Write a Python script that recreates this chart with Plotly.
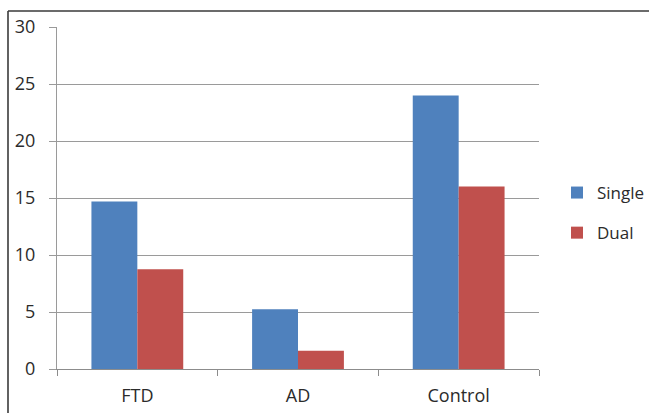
import plotly.graph_objects as go

categories = ["FTD", "AD", "Control"]
single = [14.7, 5.25, 24.0]
dual = [8.75, 1.6, 16.0]
y_ticks = [0, 5, 10, 15, 20, 25, 30]

W, H = 649, 413
ML, MR, MT, MB = 57, 110, 27, 44
pw, ph = W - ML - MR, H - MT - MB

def px_x(x):
    return (x - ML) / pw

def px_y(y):
    return (H - MB - y) / ph

fig = go.Figure()
fig.add_trace(go.Bar(x=categories, y=single, name="Single", marker_color="#4F81BD",
                     marker_line_width=0, legendgroup="a"))
fig.add_trace(go.Bar(x=categories, y=dual, name="Dual", marker_color="#C0504D",
                     marker_line_width=0, legendgroup="b"))

font = "Open Sans, Liberation Sans, sans-serif"
fig.update_layout(
    width=W, height=H,
    margin=dict(l=ML, r=MR, t=MT, b=MB, pad=0, autoexpand=False),
    paper_bgcolor="white", plot_bgcolor="white",
    barmode="group", bargap=0.4286, bargroupgap=0,
    font=dict(family=font, size=18, color="#2b2b2b"),
    showlegend=True,
    legend=dict(x=px_x(557), xanchor="left", y=px_y(213), yanchor="middle",
                font=dict(size=17), traceorder="grouped", tracegroupgap=15,
                itemwidth=30, bgcolor="rgba(0,0,0,0)"),
    xaxis=dict(showline=True, linecolor="#8c8c8c", linewidth=1.3,
               ticks="outside", ticklen=6, tickcolor="#8c8c8c", tickwidth=1.3,
               tickson="boundaries", showgrid=False, tickfont=dict(size=18),
               ticklabelstandoff=10, fixedrange=True),
    yaxis=dict(range=[0, 30], tickvals=y_ticks, showline=True, linecolor="#9a9a9a",
               linewidth=1.3, showgrid=True, gridcolor="#9a9a9a", gridwidth=1.3,
               ticks="outside", ticklen=7, tickcolor="#9a9a9a", tickwidth=1.3,
               ticklabelstandoff=10, zeroline=False, tickfont=dict(size=18),
               fixedrange=True),
    shapes=[
        dict(type="line", xref="paper", yref="paper",
             x0=px_x(8), x1=px_x(649), y0=px_y(11), y1=px_y(11),
             line=dict(color="#3a3a3a", width=1.6)),
        dict(type="line", xref="paper", yref="paper",
             x0=px_x(8), x1=px_x(8), y0=px_y(11), y1=px_y(413),
             line=dict(color="#3a3a3a", width=1.6)),
    ],
)

fig.write_html("out.html", config={"displayModeBar": False},
               post_script="document.body.style.margin='0';document.body.style.overflow='hidden';")
